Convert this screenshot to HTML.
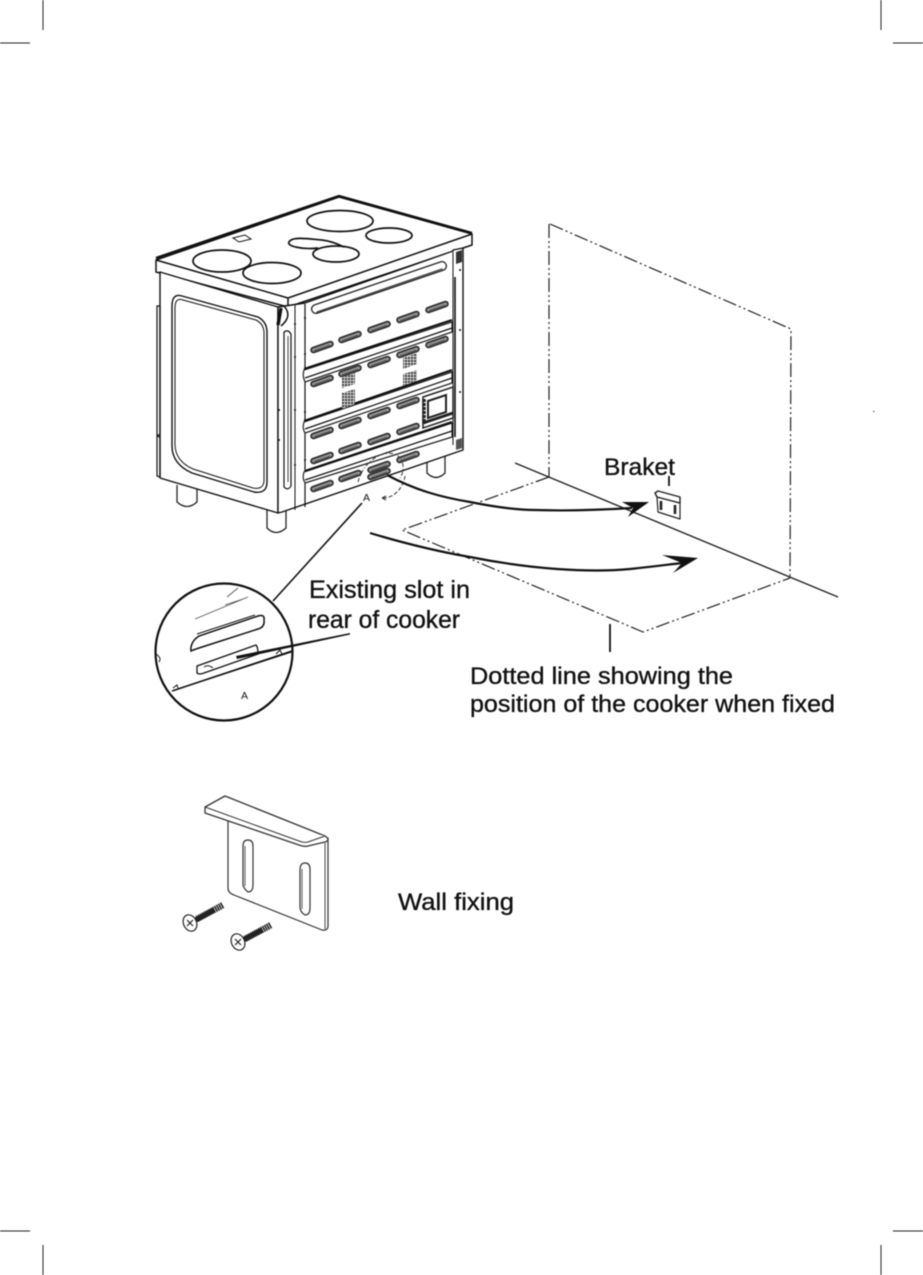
<!DOCTYPE html>
<html><head><meta charset="utf-8"><style>
html,body{margin:0;padding:0;background:#fff;width:923px;height:1275px;overflow:hidden}
svg{display:block;filter:blur(.4px)}
text{font-family:"Liberation Sans",sans-serif;fill:#111}
.l{stroke:#111;stroke-width:.35px}
</style></head><body>
<svg width="923" height="1275" viewBox="0 0 923 1275" xmlns="http://www.w3.org/2000/svg">
<defs>
<g id="s"><line x1="-8.5" y1="3" x2="8.5" y2="-3" stroke="#333" stroke-width="6.6" stroke-linecap="round"/><line x1="-8.5" y1="3" x2="8.5" y2="-3" stroke="#999" stroke-width="3" stroke-linecap="round"/><line x1="-8" y1="3.6" x2="8" y2="-2" stroke="#555" stroke-width="1"/></g>
<pattern id="h" width="3" height="3" patternUnits="userSpaceOnUse"><rect width="3" height="3" fill="#ccc"/><rect width="2" height="2" fill="#444"/></pattern>
</defs>
<g stroke="#222" stroke-width="1" fill="none">
<path d="M0 43H30M43 0V30M881 0V30M893 43H923M0 1231H30M43 1245V1275M881 1245V1275M893 1231H923"/>
</g>
<rect x="873" y="411" width="1.5" height="1" fill="#444"/>

<!-- wall and floor -->
<g fill="none" stroke="#222" stroke-width="1.2">
<path d="M550 224L791 329L790 578" stroke-dasharray="14 3 2 3 2 3"/>
<path d="M549 224V477" stroke-dasharray="14 3 2 3 2 3"/>
<path d="M549 477L402 530L643 632L790 578" stroke-dasharray="14 3 2 3 2 3"/>
<path d="M515 463L838 597" stroke-width="1.4"/>
</g>

<!-- legs -->
<g fill="#fff" stroke="#222" stroke-width="1.3">
<path d="M177 485V502Q187 511 197 502V488"/>
<path d="M267 510V528Q276 537 286 528V510"/>
<path d="M427 460V473Q436 482 445 473V456"/>
</g>

<!-- top -->
<g stroke="#111" fill="#fff" stroke-linejoin="round">
<path d="M156 260L339 197L472 234L472 245L288 307L156 272Z" stroke-width="1.5"/>
<path d="M156 260L288 298L472 234" fill="none" stroke-width="1.5"/>
<path d="M156 258L339 196L472 233" fill="none" stroke-width="2.4"/>
<path d="M288 298V307" fill="none" stroke-width="1.5"/>
</g>
<g fill="none" stroke="#111" stroke-width="1.7">
<ellipse cx="340" cy="221" rx="33" ry="10.5"/>
<ellipse cx="389" cy="235.5" rx="23" ry="7.5"/>
<ellipse cx="222" cy="261" rx="29" ry="11"/>
<ellipse cx="272" cy="273" rx="29" ry="10.5"/>
<ellipse cx="336" cy="254" rx="23" ry="8"/>
<path d="M318 248C303 250 286 246 289 242C292 236 310 239 322 240C330 241 338 244 344 247"/>
<path d="M233 238L245 235L251 239L239 242Z" stroke-width="1"/>
</g>

<!-- side panel -->
<g fill="#fff" stroke="#111" stroke-width="1.4" stroke-linejoin="round">
<path d="M160 272L278 307V513L160 478Z"/>
<path d="M278 307L305 303L453 251V250L463 248V450L282 512L278 513Z"/>
</g>
<g fill="none" stroke="#111" stroke-width="1.2">
<path d="M182 296L258 317Q267 322 267 332V482Q267 494 254 492L192 473Q172 464 172 446V306Q172 293 182 296Z" stroke-width="1.4"/>
<path d="M183 300L256 320Q264 324 264 333V480Q264 490 253 488L193 469Q175 461 175 444V308Q175 297 183 300Z" stroke-width="1"/>
<path d="M157 306H160V435H157ZM157 436L160 437V477L157 476Z"/>
<path d="M284 332Q288 329 291 334V486Q288 491 284 487Z"/>
<path d="M288 336V482" stroke-width=".8"/>
<path d="M295 305V510" stroke-width="1"/>
<path d="M305 304V507"/>
<path d="M281 308L278 325" stroke-width="3.4"/>
<path d="M284 306Q293 316 281 326" stroke-width="1.5"/>
<path d="M453 252V445" stroke-width="1"/>
<path d="M455 277V437" stroke-width="1.6"/>
<path d="M456 252L462 250V262L456 264Z" fill="#333" stroke="none"/>
<path d="M456 440L462 438V448L456 450Z" fill="#555" stroke="none"/>
</g>
<g fill="#111">
<circle cx="295" cy="324" r="1"/><circle cx="295" cy="357" r="1"/><circle cx="295" cy="410" r="1"/><circle cx="295" cy="465" r="1"/>
<circle cx="305" cy="318" r="1"/><circle cx="305" cy="354" r="1"/><circle cx="305" cy="412" r="1"/><circle cx="305" cy="460" r="1"/>
<circle cx="460" cy="270" r="1"/><circle cx="460" cy="330" r="1"/><circle cx="460" cy="392" r="1"/>
<circle cx="279" cy="410" r="1"/><circle cx="279" cy="440" r="1"/>
</g>

<!-- top long slot -->
<line x1="316" y1="309" x2="442" y2="266" stroke="#222" stroke-width="10" stroke-linecap="round"/>
<line x1="316" y1="309" x2="442" y2="266" stroke="#fff" stroke-width="7.4" stroke-linecap="round"/>
<line x1="317" y1="312" x2="442" y2="269" stroke="#444" stroke-width="1.4" stroke-linecap="round"/>

<!-- rails -->
<g fill="#fff" stroke="#222" stroke-linejoin="round">
<path d="M304 370L452 322V332L305 382Q302 376 304 370Z" stroke-width="1.2"/>
<path d="M304 422L452 372V383L305 433Q302 428 304 422Z" stroke-width="1.2"/>
<path d="M304 472L452 423V437L305 483Q302 478 304 472Z" stroke-width="1.2"/>
</g>
<g stroke="#111" fill="none">
<path d="M304 369L452 320M304 421L452 370M305 471L452 422" stroke-width="2.2"/>
<path d="M305 378L452 328M305 429L452 378M305 480L452 431" stroke-width="1.2"/>
</g>

<!-- slots -->
<g>
<use href="#s" x="322" y="347"/><use href="#s" x="350" y="337"/><use href="#s" x="379" y="327"/><use href="#s" x="408" y="317"/><use href="#s" x="437" y="307"/>
<use href="#s" x="322" y="381"/><use href="#s" x="350" y="371"/><use href="#s" x="379" y="362"/><use href="#s" x="408" y="352"/><use href="#s" x="437" y="342"/>
<use href="#s" x="322" y="433"/><use href="#s" x="350" y="423"/><use href="#s" x="379" y="413"/><use href="#s" x="408" y="403"/>
<use href="#s" x="322" y="458"/><use href="#s" x="350" y="448"/><use href="#s" x="379" y="439"/><use href="#s" x="408" y="429"/>
<use href="#s" x="322" y="486"/><use href="#s" x="350" y="476"/><use href="#s" x="379" y="467"/><use href="#s" x="408" y="457"/>
<use href="#s" x="379" y="474"/>
</g>

<!-- vents -->
<path d="M342 377L355 373V384L342 388Z" fill="url(#h)"/>
<path d="M342 393L355 389V404L342 409Z" fill="url(#h)"/>
<path d="M403 358L417 353V364L403 369Z" fill="url(#h)"/>
<path d="M403 374L417 370V381L403 386Z" fill="url(#h)"/>

<!-- control box -->
<g fill="#fff" stroke="#222" stroke-width="1.5">
<path d="M423 397L453 387V418L423 428Z"/>
<path d="M428 401L446 395V412L428 418Z" stroke-width="2"/>
<path d="M423 423L453 413" stroke-width="3"/>
<path d="M424 399V424" stroke-width="3.5" stroke-dasharray="3 1"/>
</g>

<!-- detail A marker -->
<g fill="none" stroke="#333" stroke-width="1">
<path d="M358 482C364 458 388 448 398 456C405 462 404 472 400 478" stroke-dasharray="4 2 1 2"/>
<path d="M405 476C404 485 396 498 383 498" stroke-dasharray="4 2"/>
<path d="M382 498L386 496M382 498L386 500"/>
</g>
<text x="363" y="501" font-size="10.5">A</text>

<!-- arrows -->
<g fill="none" stroke="#111" stroke-width="2.2">
<path d="M387 475C415 490 440 497 470 502C495 507 515 510 535 510C565 511 600 510 632 508"/>
<path d="M370 533C400 542 435 551 470 557C500 563 530 567 557 569C585 571 610 571 630 569C650 567 665 565 682 563"/>
</g>
<path d="M622 502L649 502L628 517L633 508Z" fill="#111"/>
<path d="M662 555L698 558L673 573L682 563Z" fill="#111"/>

<!-- leaders -->
<g stroke="#111" fill="none">
<line x1="362" y1="503" x2="273" y2="601" stroke-width="1.6"/>
<line x1="669" y1="476" x2="669" y2="486" stroke-width="1.8"/>
<line x1="610" y1="624" x2="610" y2="652" stroke-width="1.8"/>
</g>

<!-- magnifier -->
<g fill="none" stroke="#111">
<circle cx="224" cy="652" r="68.5" stroke-width="2.2" fill="#fff"/>
<path d="M227 597L238 588M225 605L246 598M195 619L248 597" stroke-width=".9" stroke="#555"/>
<path d="M191 651Q190 642 199 636L258 616Q265 614 264 620Q265 627 258 629L199 648Q193 650 191 651Z" stroke-width="1.5"/>
<path d="M197 634L255 615" stroke-width="1"/>
<path d="M197 673V666L256 645Q258 647 258 654L204 673Q199 675 197 673Z" stroke-width="1.3"/>
<path d="M172 691L292 651" stroke-width="1.6"/>
<path d="M175 690L292 652" stroke-width=".9"/>
<path d="M173 688L177 685L178 688M276 654L280 650L282 654" stroke-width="1"/>
<path d="M156 654Q162 658 159 662" stroke-width="1"/>
<path d="M204 667Q208 664 213 668" stroke-width="1"/>
</g>
<path d="M236 656L350 633L350 634.5L237 659Z" fill="#111"/>
<text x="241" y="699" font-size="10.5">A</text>

<!-- labels -->
<text class="l" x="604" y="475" font-size="24" textLength="71" lengthAdjust="spacingAndGlyphs">Braket</text>
<text class="l" x="309" y="598" font-size="25" textLength="161" lengthAdjust="spacingAndGlyphs">Existing slot in</text>
<text class="l" x="308" y="628" font-size="25" textLength="152" lengthAdjust="spacingAndGlyphs">rear of cooker</text>
<text class="l" x="470" y="684" font-size="24.5" textLength="263" lengthAdjust="spacingAndGlyphs">Dotted line showing the</text>
<text class="l" x="470" y="712" font-size="24.5" textLength="365" lengthAdjust="spacingAndGlyphs">position of the cooker when fixed</text>
<text class="l" x="398" y="910" font-size="24.5" textLength="116" lengthAdjust="spacingAndGlyphs">Wall fixing</text>

<!-- small bracket -->
<g fill="#fff" stroke="#222" stroke-width="1.2" stroke-linejoin="round">
<path d="M657 497L680 503V519L658 512Z"/>
<path d="M655 493L658 491L680 497V503L657 497Z" stroke-width="1.4"/>
<path d="M661 501V510M675 505V514" stroke-width="2.6"/>
</g>

<!-- wall fixing bracket -->
<g fill="#fff" stroke="#333" stroke-width="1.2" stroke-linejoin="round">
<path d="M228 818V888Q228 893 234 895L322 930Q328 931 328 926V838Z"/>
<path d="M325 843V929" stroke-width=".9"/>
<path d="M205 807L225 796L325 836Q331 840 325 842L308 846Q304 847 299 845L205 813Z" stroke-width="1.3"/>
<path d="M205 807L299 841Q304 843 308 842L325 836" stroke-width="1"/>
<path d="M243 846Q243 840 248 840Q253 840 253 846V885Q253 892 248 892Q243 888 243 884Z"/>
<path d="M300 870Q300 863 305 863Q310 863 310 869V908Q310 915 305 915Q300 912 300 907Z"/>
<path d="M245 846V886M302 869V909" stroke-width=".8"/>
</g>
<!-- screws -->
<g stroke="#222" fill="none">
<line x1="197" y1="919" x2="223" y2="905" stroke-width="6.5" stroke-dasharray="1.6 .7"/>
<line x1="245" y1="939" x2="271" y2="925" stroke-width="6.5" stroke-dasharray="1.6 .7"/>
<line x1="194" y1="921" x2="214" y2="910" stroke-width="5"/>
<line x1="243" y1="940" x2="262" y2="930" stroke-width="5"/>
<ellipse cx="190" cy="923" rx="6.5" ry="8.5" fill="#fff" stroke-width="1.2" transform="rotate(-25 190 923)"/>
<ellipse cx="238" cy="942" rx="6.5" ry="8.5" fill="#fff" stroke-width="1.2" transform="rotate(-25 238 942)"/>
<path d="M187 920L193 926M193 920L187 926M235 939L241 945M241 939L235 945" stroke-width="1.2"/>
</g>
</svg>
</body></html>
